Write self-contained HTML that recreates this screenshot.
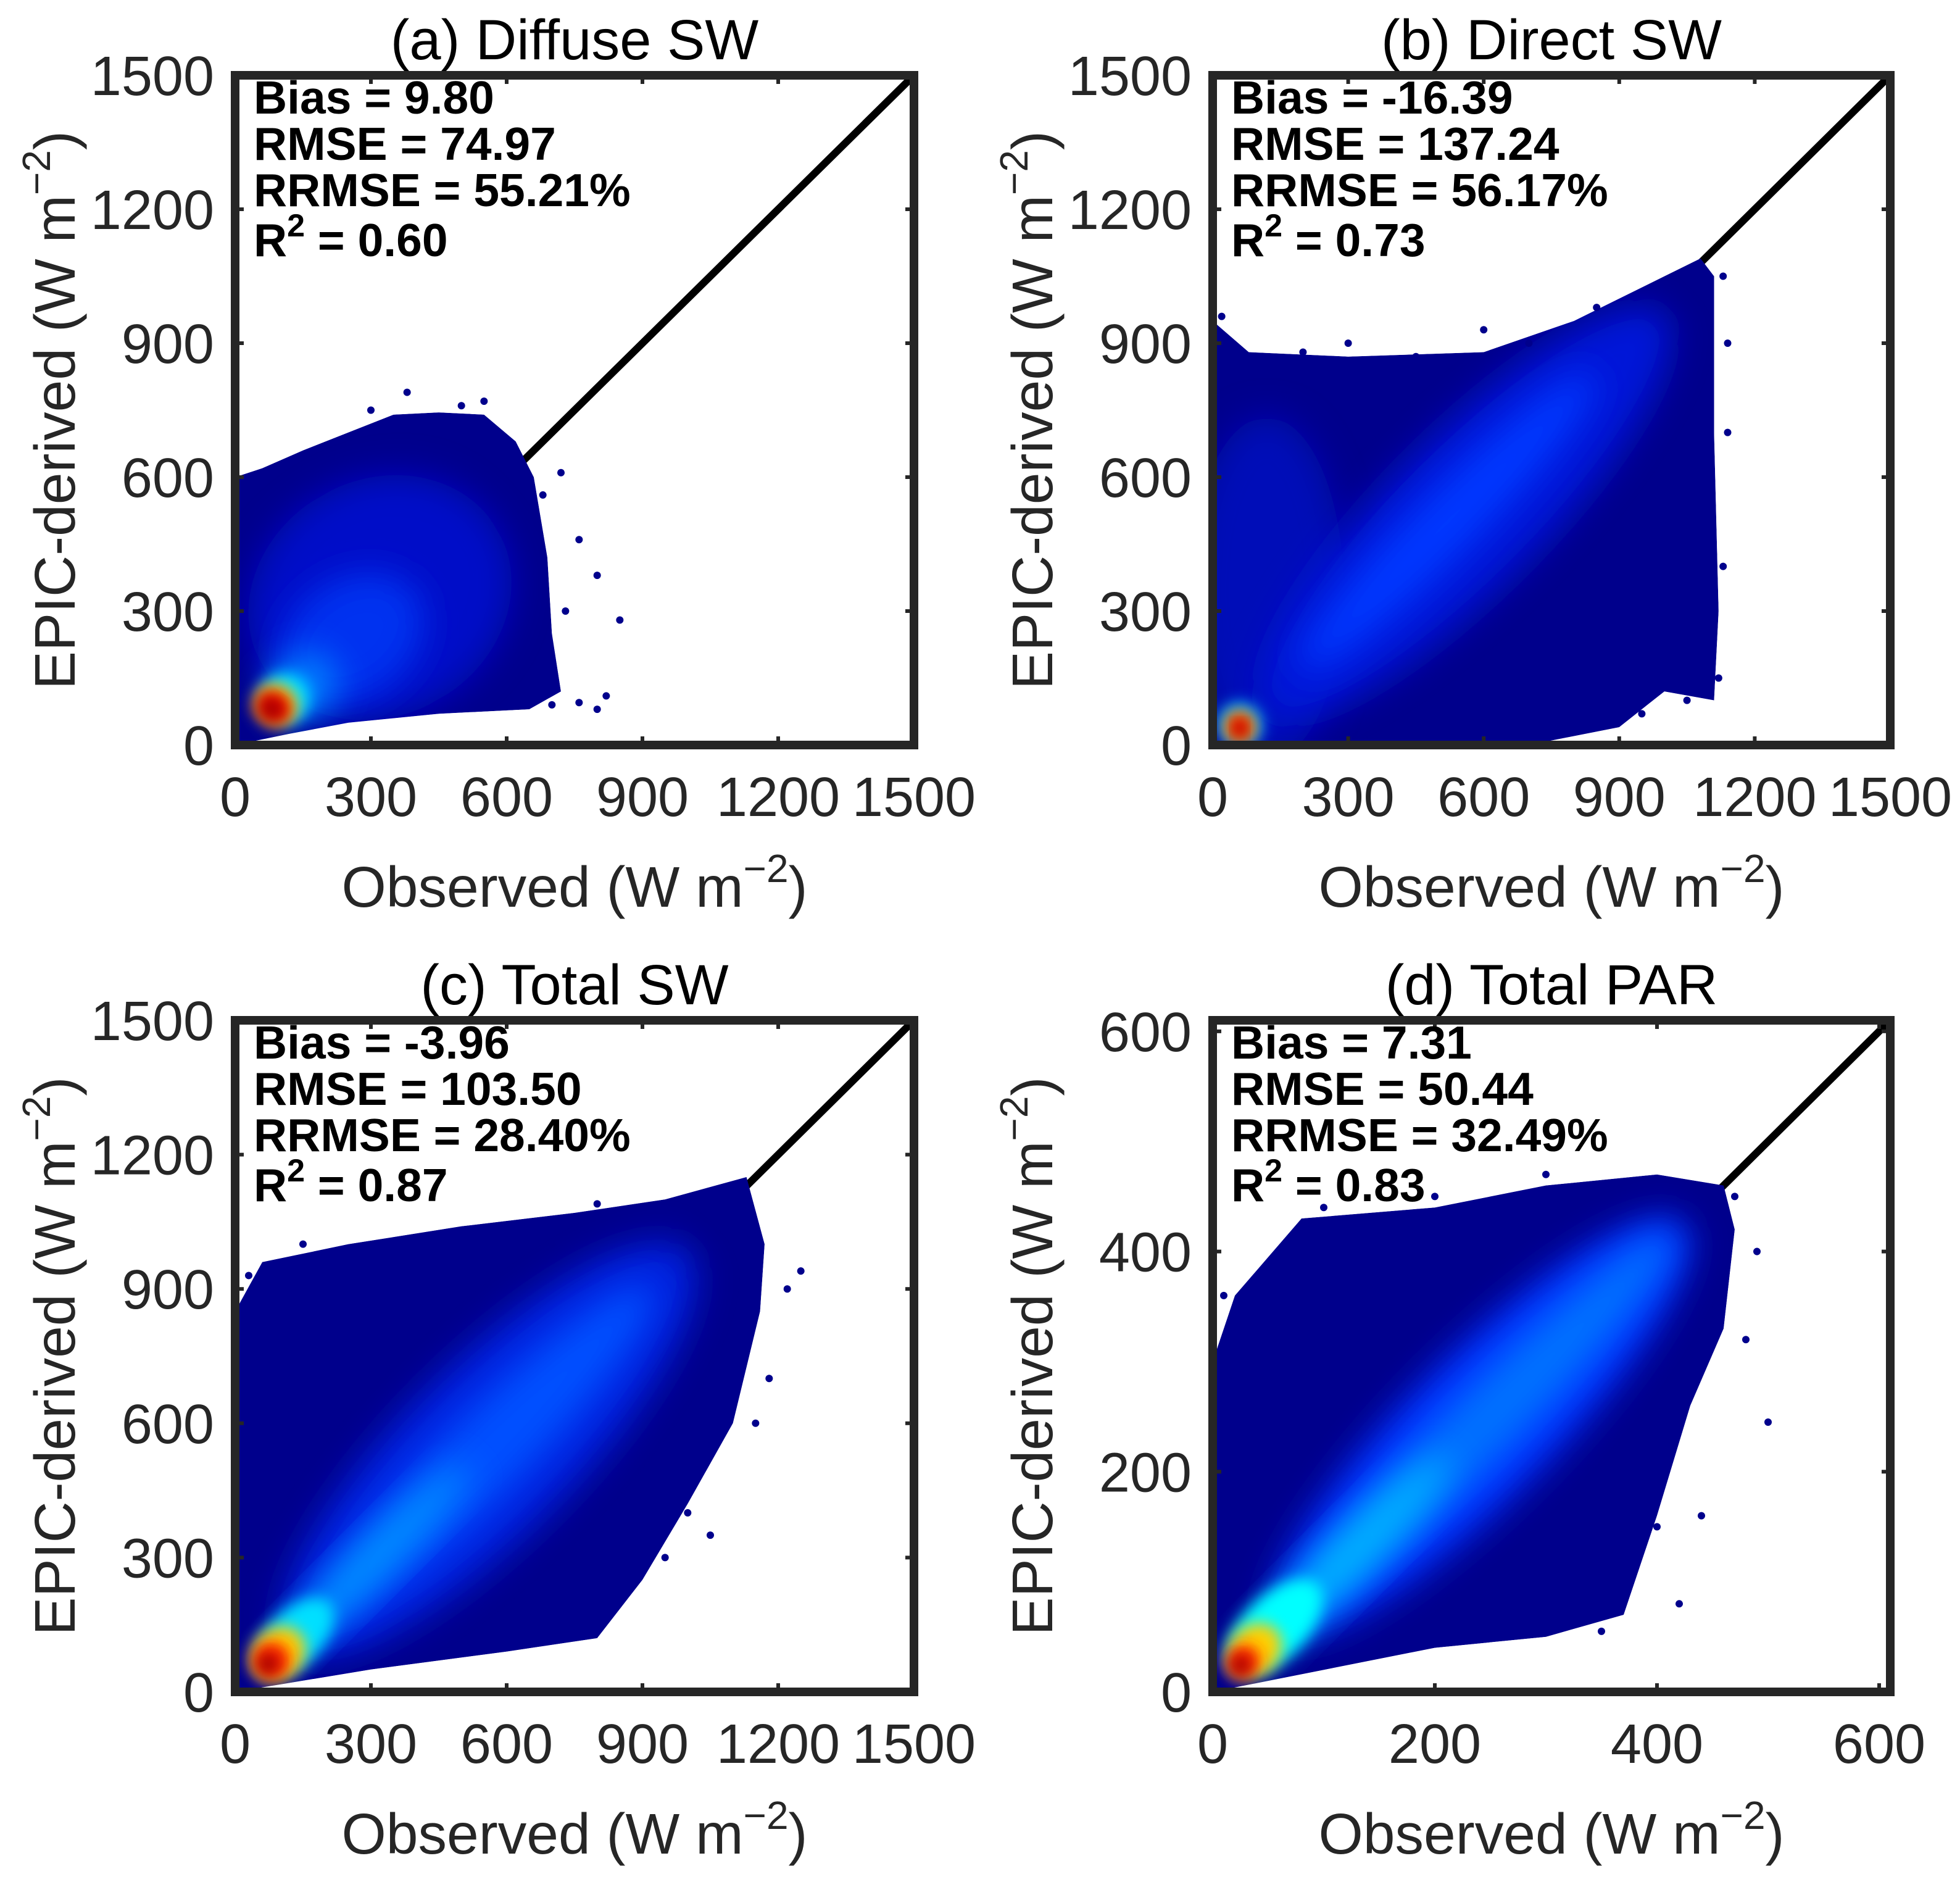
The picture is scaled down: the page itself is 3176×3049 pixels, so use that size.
<!DOCTYPE html>
<html><head><meta charset="utf-8"><style>
html,body{margin:0;padding:0;background:#fff;}
svg{display:block;font-family:"Liberation Sans",Arial,sans-serif;}
</style></head><body>
<svg id="fig" width="3176" height="3049" viewBox="0 0 3176 3049" xmlns="http://www.w3.org/2000/svg">
<defs>
<filter id="blur" x="-50%" y="-50%" width="200%" height="200%"><feGaussianBlur stdDeviation="28"/></filter>
<filter id="blurS" x="-50%" y="-50%" width="200%" height="200%"><feGaussianBlur stdDeviation="12"/></filter>
</defs>
</svg>
<script>
// ---------- data ----------
const panelTitles = ["(a) Diffuse SW","(b) Direct SW","(c) Total SW","(d) Total PAR"];
const axisMax = [1500,1500,1500,610];
const tickValsA = [0,300,600,900,1200,1500];
const tickValsD = [0,200,400,600];
const statsA = ["Bias = 9.80","RMSE = 74.97","RRMSE = 55.21%","0.60"];
const statsB = ["Bias = -16.39","RMSE = 137.24","RRMSE = 56.17%","0.73"];
const statsC = ["Bias = -3.96","RMSE = 103.50","RRMSE = 28.40%","0.87"];
const statsD = ["Bias = 7.31","RMSE = 50.44","RRMSE = 32.49%","0.83"];
// cloud envelopes [observed, estimated]
const envA = [[0,0],[0,600],[60,620],[150,660],[250,700],[350,740],[450,745],[550,740],[620,680],[660,600],[690,420],[700,250],[720,120],[650,80],[450,70],[250,50],[120,25]];
const envB = [[0,0],[0,950],[80,880],[300,870],[600,880],[800,950],[1000,1050],[1080,1090],[1110,1050],[1110,700],[1120,300],[1110,100],[1000,120],[900,40],[700,0]];
const envC = [[0,0],[0,850],[60,960],[250,1000],[500,1040],[750,1070],[950,1100],[1130,1150],[1170,1000],[1160,850],[1100,600],[1000,420],[900,250],[800,120],[600,90],[300,50],[120,20]];
const envD = [[0,0],[0,300],[20,360],[80,430],[200,440],[300,460],[400,470],[460,460],[470,420],[460,330],[430,260],[400,160],[370,70],[300,50],[200,40],[100,20]];
// density blobs [cx, cy, rx, ry, angle, color]
const blobA = [[320,330,300,260,-30,"#0010c8"],[260,240,170,130,-35,"#0030f0"],[150,130,80,70,-45,"#0080ff"],[110,105,55,55,-50,"#00e0ff"],[90,90,45,48,-55,"#ffd000"],[85,85,35,40,-55,"#e80000"],[80,80,22,26,-55,"#a00000"]];
const blobB = [[120,350,170,380,0,"#0008b8"],[560,520,620,170,-45,"#0018d8"],[520,500,460,70,-45,"#0038ff"],[60,45,50,50,0,"#00b0ff"],[60,40,34,36,0,"#ffb000"],[60,40,24,27,0,"#e80000"],[60,35,12,15,0,"#a00000"]];
const blobC = [[560,540,620,190,-45,"#0020e0"],[550,530,520,90,-45,"#0050ff"],[300,290,300,45,-45,"#0090ff"],[130,120,110,60,-45,"#00e0ff"],[95,85,65,55,-45,"#ffd000"],[80,70,42,42,-45,"#ff2000"],[72,62,24,24,0,"#a00000"]];
const blobD = [[240,240,260,65,-45,"#0030ff"],[250,250,230,32,-45,"#0070ff"],[120,120,130,22,-45,"#00b0ff"],[55,58,55,28,-45,"#00ffff"],[38,38,26,22,-45,"#ffd000"],[27,27,16,15,-45,"#ff2000"],[25,24,9,9,0,"#a00000"]];
// outlier points
const outA = [[380,790],[550,770],[720,610],[760,460],[800,380],[850,280],[820,110],[800,80],[760,95],[700,90],[150,650],[680,560],[500,760],[300,750],[730,300]];
const outB = [[600,930],[700,900],[450,870],[200,880],[1130,1050],[1140,700],[1130,400],[1120,150],[1050,100],[950,70],[20,960],[300,900],[850,980],[1140,900]];
const outC = [[1250,940],[1220,900],[1180,700],[1150,600],[400,960],[700,1000],[1000,400],[950,300],[30,930],[800,1090],[1050,350],[150,1000]];
const outD = [[500,245],[480,320],[490,400],[470,450],[440,160],[400,150],[300,470],[10,360],[420,80],[350,55],[100,440],[200,450]];
// ---------- layout ----------
const NS="http://www.w3.org/2000/svg";
const svg=document.getElementById('fig');
const boxes=[[381,122,1481,1207],[1965,122,3063,1207],[381,1653,1481,2741],[1965,1653,3063,2741]];
const envs=[envA,envB,envC,envD], blobs=[blobA,blobB,blobC,blobD], outs=[outA,outB,outC,outD];
const stats=[statsA,statsB,statsC,statsD];
const ticks=[tickValsA,tickValsA,tickValsA,tickValsD];
function mk(tag,attrs,parent){const e=document.createElementNS(NS,tag);for(const k in attrs)e.setAttribute(k,attrs[k]);(parent||svg).appendChild(e);return e;}
for(let p=0;p<4;p++){
  const [x0,y0,x1,y1]=boxes[p], M=axisMax[p];
  const sx=v=>x0+v/M*(x1-x0), sy=v=>y1-v/M*(y1-y0), s=(x1-x0)/M;
  const g=mk('g',{});
  
  
  const ln=mk('line',{x1:sx(0),y1:sy(0),x2:sx(M),y2:sy(M),stroke:'#000','stroke-width':12},g);
  
  
  const cp=mk('clipPath',{id:'clip'+p},g);
  const ptsStr=envs[p].map(d=>sx(d[0])+','+sy(d[1])).join(' ');
  mk('polygon',{points:ptsStr},cp);
  const sc=mk('g',{'clip-path':'url(#clip'+p+')'},g);
  
  
  const env=mk('polygon',{points:ptsStr,fill:'#00008c'},sc);
  
  
  blobs[p].forEach((b,i)=>{
    const cx=sx(b[0]),cy=sy(b[1]);
    const e=mk('ellipse',{cx:cx,cy:cy,rx:b[2]*s,ry:b[3]*s,fill:b[5],transform:`rotate(${b[4]} ${cx} ${cy})`,filter:i<3?'url(#blur)':'url(#blurS)'},sc);
    
    
  });
  outs[p].forEach(o=>{
    const c=mk('circle',{cx:sx(o[0]),cy:sy(o[1]),r:6,fill:'#00008c'},g);
    
    
  });
  const fr=mk('rect',{x:x0,y:y0,width:x1-x0,height:y1-y0,fill:'none',stroke:'#262626','stroke-width':14},g);
  
  
  ticks[p].forEach(t=>{
    const tx=mk('text',{x:sx(t),y:y1+115,'font-size':90,'text-anchor':'middle',fill:'#262626'},g);
    tx.textContent=t;
    
    
    const ty=mk('text',{x:x0-34,y:sy(t)+32,'font-size':90,'text-anchor':'end',fill:'#262626'},g);
    ty.textContent=t;
    
    
    [[sx(t),y1,sx(t),y1-14],[sx(t),y0,sx(t),y0+14],[x0,sy(t),x0+14,sy(t)],[x1,sy(t),x1-14,sy(t)]].forEach(q=>{
      const tk=mk('line',{x1:q[0],y1:q[1],x2:q[2],y2:q[3],stroke:'#262626','stroke-width':6},g);
      
      
    });
  });
  const ti=mk('text',{x:(x0+x1)/2,y:y0-26,'font-size':92,'text-anchor':'middle',fill:'#000'},g);
  ti.textContent=panelTitles[p];
  
  
  const xl=mk('text',{x:(x0+x1)/2,y:y1+262,'font-size':93,'text-anchor':'middle',fill:'#262626'},g);
  xl.innerHTML='Observed (W m<tspan dy="-40" font-size="64">−2</tspan><tspan dy="40">)</tspan>';
  
  
  const yx=x0-260, yy=(y0+y1)/2;
  const yl=mk('text',{x:yx,y:yy,'font-size':93,'text-anchor':'middle',fill:'#262626',transform:`rotate(-90 ${yx} ${yy})`},g);
  yl.innerHTML='EPIC-derived (W m<tspan dy="-40" font-size="64">−2</tspan><tspan dy="40">)</tspan>';
  
  
  const st=stats[p];
  for(let i=0;i<4;i++){
    const t=mk('text',{x:x0+30,y:y0+62+i*75+(i==3?6:0),'font-size':75,'font-weight':'bold',fill:'#000'},g);
    if(i<3)t.textContent=st[i];
    else t.innerHTML='R<tspan dy="-32" font-size="52">2</tspan><tspan dy="32"> = '+st[3]+'</tspan>';
    
    
  }
}
</script>
</body></html>
